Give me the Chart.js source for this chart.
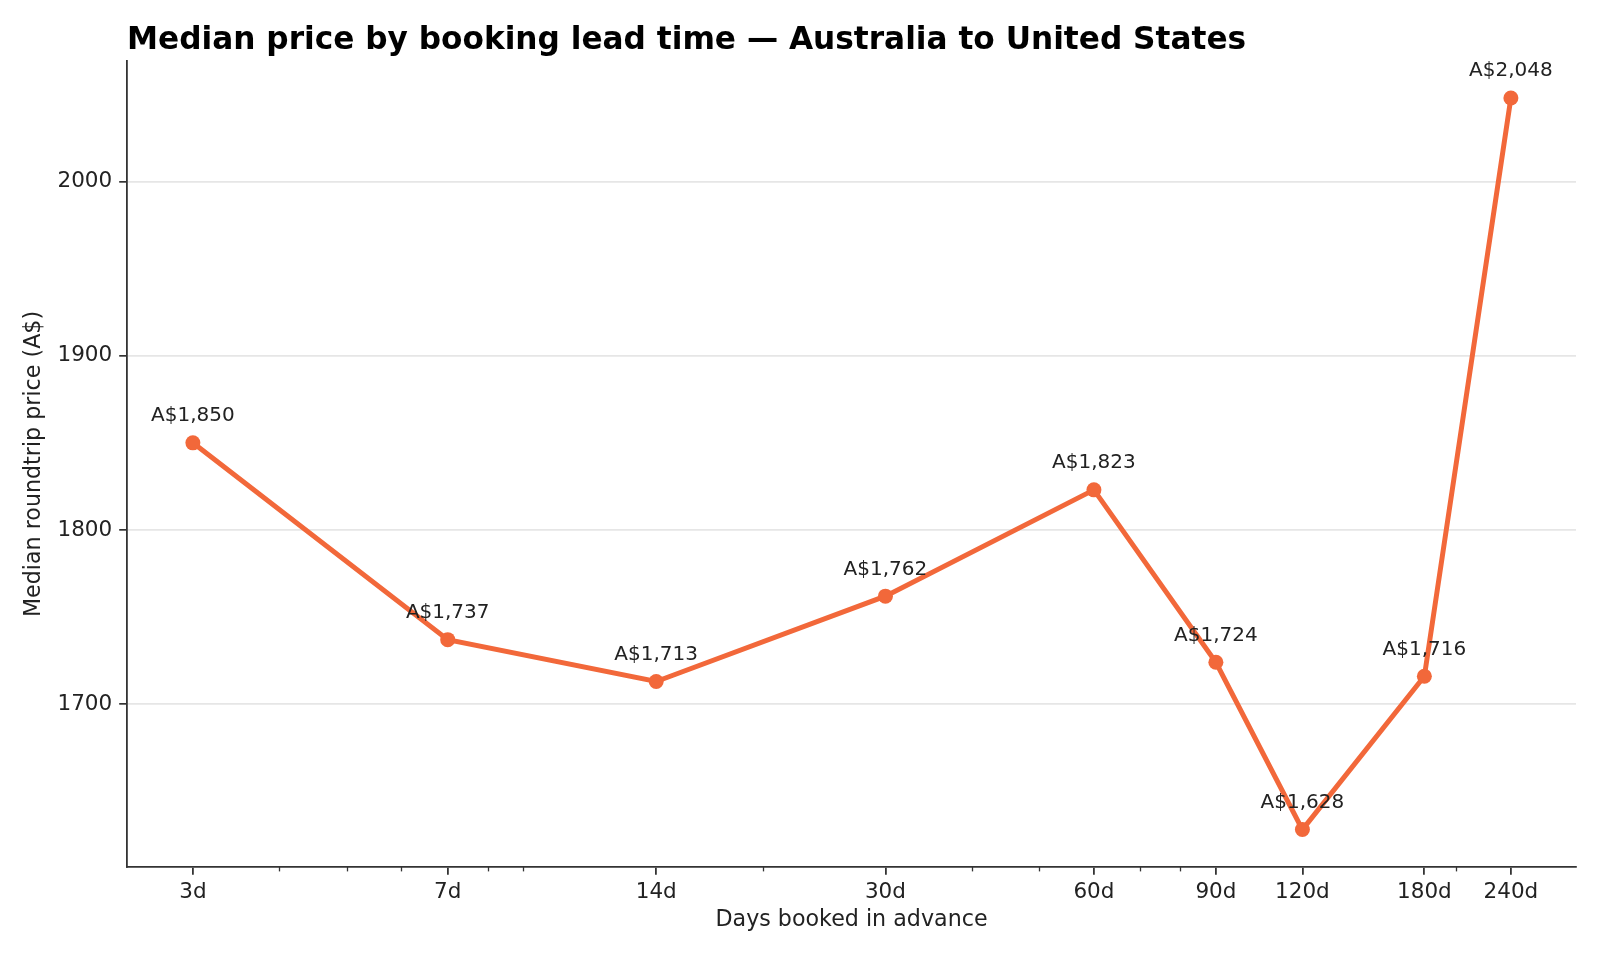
<!DOCTYPE html>
<html lang="en">
<head>
  <meta charset="UTF-8">
  <title>Median price by booking lead time</title>
  <script src="https://cdn.jsdelivr.net/npm/chart.js"></script>
  <style>
    body { margin: 0; background: #ffffff; }
    #wrap { width: 1600px; height: 960px; }
  </style>
</head>
<body>
  <div id="wrap"><canvas id="leadChart" width="1600" height="960"></canvas></div>

  <script>
    // data
    const leadDays = [3, 7, 14, 30, 60, 90, 120, 180, 240];
    const medianPrice = [1850, 1737, 1713, 1762, 1823, 1724, 1628, 1716, 2048];
    const yTickValues = [1700, 1800, 1900, 2000];
    const minorDays = [4, 5, 6, 8, 9, 20, 40, 50, 70, 80, 200];

    const titleText = 'Median price by booking lead time \u2014 Australia to United States';
    const lineColor = '#f2683a';
    const axisColor = '#333333';

    Chart.defaults.font.family = "'DejaVu Sans', sans-serif";
    Chart.defaults.color = '#222222';

    // title, left aligned with the plot area
    const titlePlugin = {
      id: 'leftTitle',
      afterDraw(chart) {
        const c = chart.ctx;
        c.save();
        c.font = "bold 31.2px 'DejaVu Sans'";
        c.fillStyle = '#000000';
        c.textAlign = 'left';
        c.textBaseline = 'alphabetic';
        c.fillText(titleText, chart.chartArea.left, 49);
        c.restore();
      }
    };

    // small minor ticks on the log axis
    const minorTicks = {
      id: 'minorTicks',
      afterDraw(chart) {
        const xs = chart.scales.x;
        const c = chart.ctx;
        const y0 = chart.chartArea.bottom;
        c.save();
        c.strokeStyle = axisColor;
        c.lineWidth = 1.3;
        minorDays.forEach(v => {
          const px = Math.round(xs.getPixelForValue(v)) + 0.5;
          c.beginPath();
          c.moveTo(px, y0);
          c.lineTo(px, y0 + 4.4);
          c.stroke();
        });
        c.restore();
      }
    };

    // value labels above each point
    const valueLabels = {
      id: 'valueLabels',
      afterDatasetsDraw(chart) {
        const meta = chart.getDatasetMeta(0);
        const c = chart.ctx;
        c.save();
        c.font = "20px 'DejaVu Sans'";
        c.fillStyle = '#222222';
        c.textAlign = 'center';
        c.textBaseline = 'alphabetic';
        meta.data.forEach((pt, i) => {
          c.fillText('A$' + medianPrice[i].toLocaleString('en-US'), pt.x, pt.y - 21.5);
        });
        c.restore();
      }
    };

    const ctx = document.getElementById('leadChart');
    new Chart(ctx, {
      type: 'line',
      data: {
        datasets: [{
          data: leadDays.map((d, i) => ({ x: d, y: medianPrice[i] })),
          borderColor: lineColor,
          backgroundColor: lineColor,
          borderWidth: 5,
          pointRadius: 7.5,
          pointHoverRadius: 7.5,
          pointBorderWidth: 0,
          tension: 0,
          clip: false
        }]
      },
      options: {
        responsive: false,
        devicePixelRatio: 1,
        animation: false,
        layout: { padding: { top: 61, right: 24, left: 0, bottom: 0 } },
        plugins: {
          legend: { display: false },
          tooltip: { enabled: false }
        },
        scales: {
          x: {
            type: 'logarithmic',
            min: 2.41,
            max: 298,
            afterBuildTicks: s => { s.ticks = leadDays.map(v => ({ value: v })); },
            afterFit: s => { s.height = 93; },
            ticks: {
              callback: v => v + 'd',
              autoSkip: false,
              maxRotation: 0,
              padding: 5,
              font: { size: 21.5 },
              color: '#222222'
            },
            grid: {
              drawOnChartArea: false,
              tickLength: 7.8,
              tickColor: axisColor,
              lineWidth: 1.8
            },
            border: { color: axisColor, width: 1.8 },
            title: {
              display: true,
              text: 'Days booked in advance',
              font: { size: 22.2 },
              color: '#222222',
              padding: { top: 0, bottom: 26.3 }
            }
          },
          y: {
            min: 1606.5,
            max: 2069.2,
            afterBuildTicks: s => { s.ticks = yTickValues.map(v => ({ value: v })); },
            afterFit: s => { s.width = 127; },
            ticks: {
              callback: v => String(v),
              padding: 7,
              font: { size: 21.5 },
              color: '#222222'
            },
            grid: {
              color: '#e6e6e6',
              lineWidth: 1.7,
              tickColor: axisColor,
              tickLength: 7.8
            },
            border: { color: axisColor, width: 1.8 },
            title: {
              display: true,
              text: 'Median roundtrip price (A$)',
              font: { size: 22.2 },
              color: '#222222',
              padding: { top: 21.4, bottom: 0 }
            }
          }
        }
      },
      plugins: [titlePlugin, minorTicks, valueLabels]
    });
  </script>
</body>
</html>
